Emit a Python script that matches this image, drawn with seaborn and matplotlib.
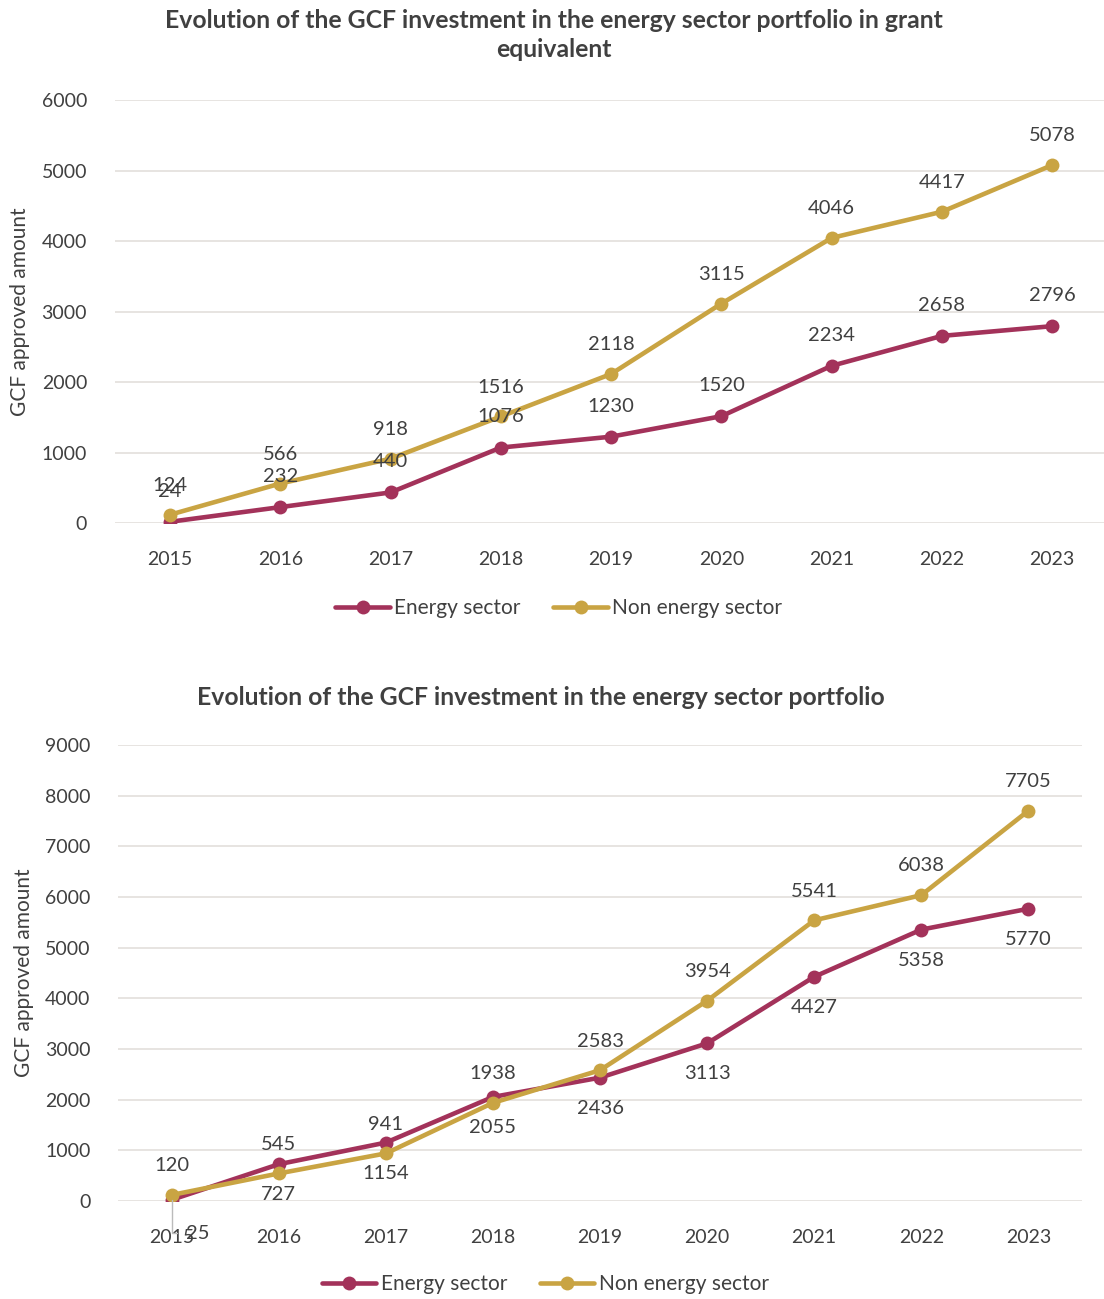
import pandas as pd
import matplotlib
matplotlib.use('Agg')
import matplotlib.pyplot as plt
import seaborn as sns

years = [2015, 2016, 2017, 2018, 2019, 2020, 2021, 2022, 2023]

# grant equivalent (top chart)
energy_ge = [24, 232, 440, 1076, 1230, 1520, 2234, 2658, 2796]
non_energy_ge = [124, 566, 918, 1516, 2118, 3115, 4046, 4417, 5078]

# nominal (bottom chart)
energy_nom = [25, 727, 1154, 2055, 2436, 3113, 4427, 5358, 5770]
non_energy_nom = [120, 545, 941, 1938, 2583, 3954, 5541, 6038, 7705]

series_names = ['Energy sector', 'Non energy sector']
palette = {'Energy sector': '#A3325A', 'Non energy sector': '#C9A443'}

sns.set_style('white')
plt.rcParams['font.family'] = ['Lato', 'DejaVu Sans']
txt_color = '#404040'


def make_df(e, n):
    return pd.DataFrame({
        'year': years * 2,
        'value': e + n,
        'series': [series_names[0]] * len(years) + [series_names[1]] * len(years),
    })


def draw(ax, e, n, ymax, legend_pos, below_energy):
    df = make_df(e, n)
    sns.lineplot(data=df, x='year', y='value', hue='series', palette=palette,
                 marker='o', markersize=10, markeredgewidth=0, linewidth=3.3,
                 ax=ax)
    ax.set_xlim(2014.5, 2023.5)
    ax.set_ylim(0, ymax)
    ax.set_yticks(range(0, ymax + 1, 1000))
    ax.set_xticks(years)
    ax.grid(axis='y', color='#E3DFDB', linewidth=1.2)
    ax.set_axisbelow(True)
    for s in ax.spines.values():
        s.set_visible(False)
    ax.tick_params(axis='both', length=0, labelsize=14, colors=txt_color)
    ax.tick_params(axis='x', pad=20)
    ax.tick_params(axis='y', pad=20)
    ax.set_xlabel('')
    ax.set_ylabel('GCF approved amount', fontsize=15, color=txt_color, labelpad=8)

    # data labels
    fs = 14.5
    for x, v in zip(years, n):
        ax.annotate(str(v), (x, v), xytext=(0, 21), textcoords='offset points',
                    ha='center', va='center', fontsize=fs, color=txt_color)
    for x, v in zip(years, e):
        if below_energy:
            if x == 2015:
                ax.annotate(str(v), (x, v), xytext=(19, -24), textcoords='offset points',
                            ha='center', va='center', fontsize=fs, color=txt_color,
                            arrowprops=dict(arrowstyle='-', color='#BBBBBB', lw=1,
                                            shrinkA=4, shrinkB=0,
                                            connectionstyle='angle,angleA=0,angleB=90,rad=0'))
            else:
                ax.annotate(str(v), (x, v), xytext=(0, -22), textcoords='offset points',
                            ha='center', va='center', fontsize=fs, color=txt_color)
        else:
            ax.annotate(str(v), (x, v), xytext=(0, 22), textcoords='offset points',
                        ha='center', va='center', fontsize=fs, color=txt_color)

    leg = ax.legend(loc='center', bbox_to_anchor=legend_pos,
                    bbox_transform=ax.figure.transFigure, ncol=2,
                    frameon=False, fontsize=15, handlelength=2.6,
                    handletextpad=0.2, columnspacing=1.6)
    for t in leg.get_texts():
        t.set_color(txt_color)


fig = plt.figure(figsize=(11.04, 12.99), dpi=100)
ax1 = fig.add_axes([0.104, 0.597, 0.899, 0.326])
ax2 = fig.add_axes([0.107, 0.0754, 0.873, 0.351])

draw(ax1, energy_ge, non_energy_ge, 6000, (0.506, 0.532), False)
draw(ax2, energy_nom, non_energy_nom, 9000, (0.494, 0.0115), True)

fig.text(0.502, 0.973,
         'Evolution of the GCF investment in the energy sector portfolio in grant\nequivalent',
         ha='center', va='center', fontsize=17.8, fontweight='bold', color=txt_color,
         linespacing=1.3)
fig.text(0.49, 0.4634, 'Evolution of the GCF investment in the energy sector portfolio',
         ha='center', va='center', fontsize=17.8, fontweight='bold', color=txt_color)

fig.savefig('out.png', dpi=100)
